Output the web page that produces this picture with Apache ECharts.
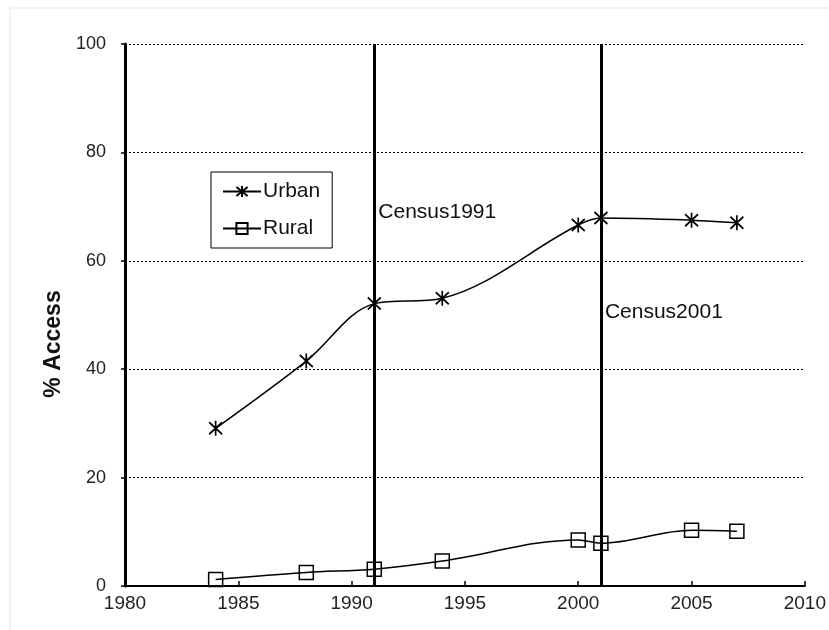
<!DOCTYPE html>
<html>
<head>
<meta charset="utf-8">
<script src="https://cdn.jsdelivr.net/npm/echarts@6/dist/echarts.min.js"></script>
<style>
  html, body { margin: 0; padding: 0; background: #fff; }
  #access-chart { width: 829px; height: 630px; }
</style>
</head>
<body>
<div id="access-chart"></div>
<script>
// data
const years = [1984, 1988, 1991, 1994, 2000, 2001, 2005, 2007];
const urban = [29.1, 41.5, 52.1, 53.1, 66.6, 67.9, 67.5, 67.0];
const rural = [1.2, 2.5, 3.1, 4.6, 8.5, 7.9, 10.3, 10.1];
const censusYears = [1991, 2001];
const censusNames = ['Census1991', 'Census2001'];
const censusLabelY = [69, 50.6]; // where the text sits (y value)

const font = '"Liberation Sans", Arial, sans-serif';
// asterisk marker, like the old excel one
const starPath = 'path://M0,-10L0,10M-8,-8L8,8M-8,8L8,-8';

const myChart = echarts.init(document.getElementById('access-chart'), null, { renderer: 'canvas' });

let option = {
  animation: false,
  backgroundColor: '#fff',
  textStyle: { fontFamily: font },
  grid: { left: 125, right: 24, top: 44, bottom: 44 },
  legend: {
    orient: 'vertical',
    left: 211,
    top: 172,
    padding: [9, 12, 9, 11],
    itemGap: 16,
    itemWidth: 38,
    itemHeight: 14,
    borderColor: '#000',
    borderWidth: 1,
    backgroundColor: '#fff',
    textStyle: { fontSize: 21, color: '#111', fontFamily: font, padding: [0, 0, 0, -3] },
    data: ['Urban', 'Rural']
  },
  xAxis: {
    type: 'value',
    min: 1980,
    max: 2010,
    interval: 5,
    axisLine: { lineStyle: { color: '#000', width: 2 } },
    axisTick: { inside: true, length: 5, lineStyle: { color: '#000', width: 1.5 } },
    axisLabel: { fontSize: 19, color: '#222', margin: 8, fontFamily: font, formatter: v => String(v) },
    splitLine: { show: false }
  },
  yAxis: {
    type: 'value',
    min: 0,
    max: 100,
    interval: 20,
    name: '% Access',
    nameLocation: 'middle',
    nameGap: 59,
    nameTextStyle: { fontSize: 23, fontWeight: 'bold', color: '#111', fontFamily: font, padding: [0, 58, 0, 0] },
    axisLine: { show: true, lineStyle: { color: '#000', width: 3 } },
    axisTick: { show: true, length: 4, lineStyle: { color: '#000', width: 1.5 } },
    axisLabel: { fontSize: 18, color: '#222', margin: 19, fontFamily: font },
    splitLine: { show: true, lineStyle: { color: '#000', type: [2, 2], width: 1 } }
  },
  series: [
    {
      name: 'Urban',
      type: 'line',
      smooth: 0.35,
      data: years.map((y, i) => [y, urban[i]]),
      symbol: starPath,
      symbolSize: [13, 15],
      itemStyle: { color: 'none', borderColor: '#000', borderWidth: 1.8 },
      lineStyle: { color: '#000', width: 1.5 },
      z: 3,
      markLine: {
        silent: true,
        symbol: 'none',
        label: { show: false },
        lineStyle: { color: '#000', width: 3, type: 'solid' },
        data: censusYears.map(y => ({ xAxis: y }))
      }
    },
    {
      name: 'Rural',
      type: 'line',
      smooth: 0.35,
      data: years.map((y, i) => [y, rural[i]]),
      symbol: 'rect',
      symbolSize: 14,
      itemStyle: { color: 'rgba(255,255,255,0)', borderColor: '#000', borderWidth: 1.5 },
      lineStyle: { color: '#000', width: 1.5 },
      z: 3
    }
  ]
};

option && myChart.setOption(option);

// census labels next to the vertical lines
const labels = censusYears.map((y, i) => {
  const p = myChart.convertToPixel({ gridIndex: 0 }, [y, censusLabelY[i]]);
  return {
    type: 'text',
    x: p[0] + 4,
    y: p[1],
    style: {
      text: censusNames[i],
      fill: '#111',
      font: '21px ' + font,
      textVerticalAlign: 'middle'
    },
    z: 10
  };
});

myChart.setOption({
  graphic: [
    {
      type: 'rect',
      shape: { x: 10, y: 8, width: 840, height: 650 },
      style: { fill: 'none', stroke: '#e6e6e6', lineWidth: 1 },
      silent: true
    },
    ...labels
  ]
});
</script>
</body>
</html>
